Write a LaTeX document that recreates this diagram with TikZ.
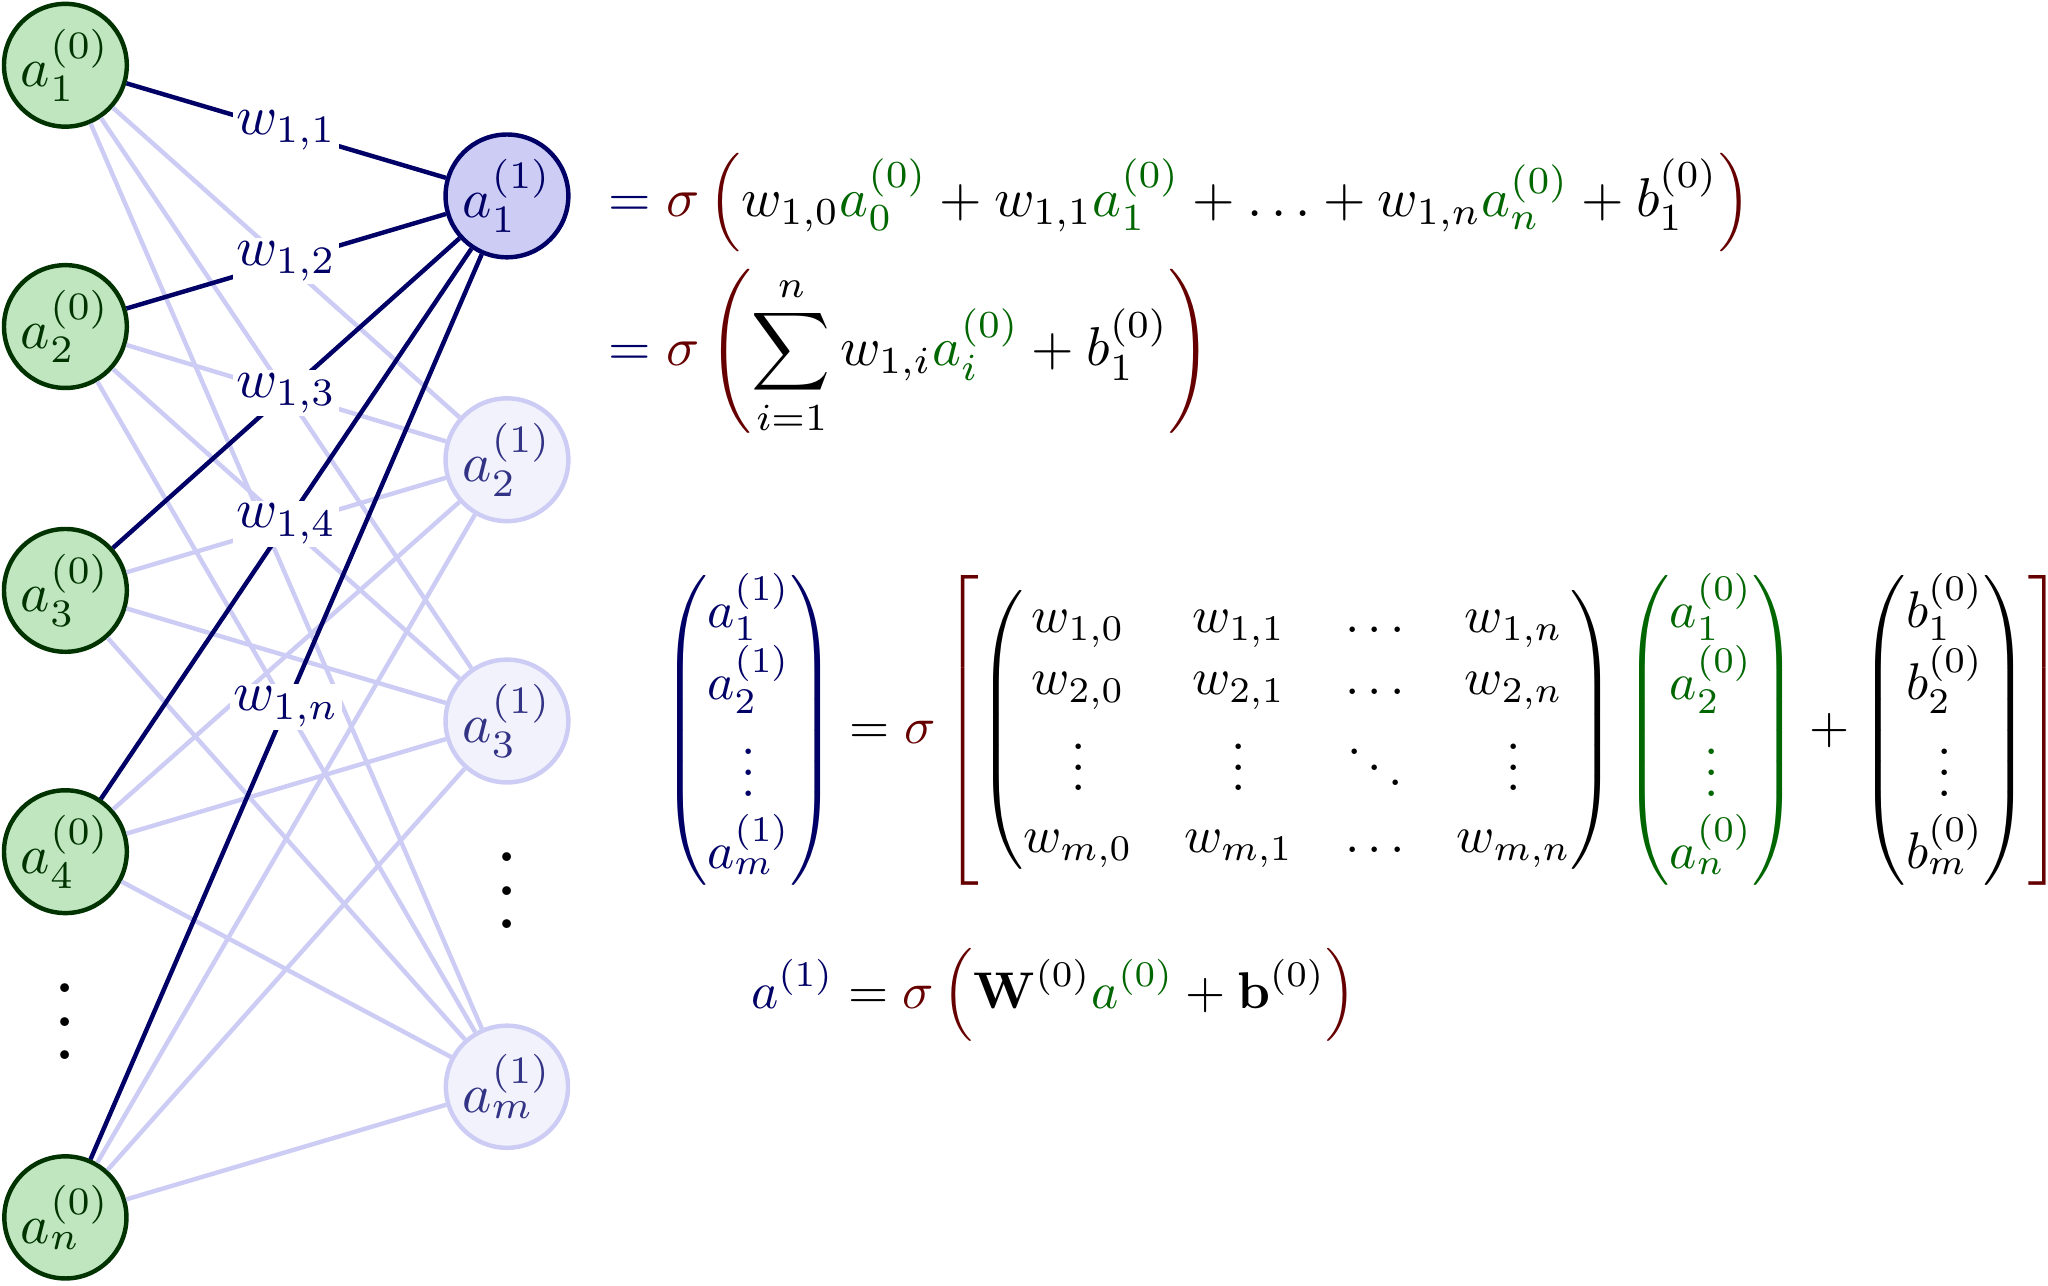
\documentclass[tikz,border=0pt]{standalone}
\usepackage{amsmath}
\usetikzlibrary{positioning}

\colorlet{myblue}{blue!80!black}
\colorlet{mydarkblue}{blue!40!black}
\colorlet{mygreen}{green!60!black}
\colorlet{mydarkgreen}{green!20!black}
\colorlet{mytextgreen}{green!40!black}
\colorlet{myred}{red!40!black}

\newcommand{\cgr}[1]{{\color{mytextgreen}#1}}
\newcommand{\cbl}[1]{{\color{mydarkblue}#1}}

\tikzset{
	neuron in/.style = {circle, thick, draw = mydarkgreen, fill = mygreen!25, text = mydarkgreen,
		minimum size = 22pt, inner sep = 0.5pt},
	neuron hid/.style = {circle, thick, draw = mydarkblue, fill = myblue!20, text = mydarkblue,
		minimum size = 22pt, inner sep = 0.5pt},
	neuron off/.style = {circle, thick, draw = myblue!20, fill = myblue!5, text = mydarkblue!80,
		minimum size = 22pt, inner sep = 0.5pt},
	link/.style = {thick, myblue!20},
	link on/.style = {thick, mydarkblue},
	weight/.style = {fill = white, inner sep = 0.6pt, text = mydarkblue},
	layer dots/.style = {scale = 1.5, inner sep = 0pt},
	formula/.style = {anchor = west, scale = 0.93}
}

\begin{document}
\begin{tikzpicture}[y = -1cm]

	\useasboundingbox (0, 0) rectangle (12.964, 8.136);

	% Input layer

	\foreach \name/\lab/\y in {in1/1/0.413, in2/2/2.067, in3/3/3.737, in4/4/5.391, inn/n/7.706}
		\node [neuron in] (\name) at (0.414, \y) {$a_{\lab}^{(0)}$};
	\node [layer dots] (indots) at (0.414, 6.31) {$\vdots$};

	% Hidden layer

	\node [neuron hid] (hid1) at (3.209, 1.240) {$a_1^{(1)}$};
	\foreach \name/\lab/\y in {hid2/2/2.910, hid3/3/4.564, hidm/m/6.879}
		\node [neuron off] (\name) at (3.209, \y) {$a_{\lab}^{(1)}$};
	\node [layer dots] (hiddots) at (3.209, 5.48) {$\vdots$};

	% Connections

	\foreach \i in {in1, in2, in3, in4, inn}
		\foreach \j in {hid2, hid3, hidm}
			\draw [link] (\i) -- (\j);
	\foreach \i/\lab in {in1/1, in2/2, in3/3, in4/4, inn/n}
		\draw [link on] (\i) -- node [weight] {$w_{1,\lab}$} (hid1);

	% Equations

	\node [anchor = west, scale = 0.985] (eqfull) at (3.73, 1.282)
		{$\displaystyle \color{mydarkblue}=\color{myred}\sigma\left(\color{black} w_{1,0}\cgr{a_0^{(0)}} + w_{1,1}\cgr{a_1^{(0)}} + \ldots + w_{1,n}\cgr{a_n^{(0)}} + b_1^{(0)}\color{myred}\right)$};
	\node [anchor = west, scale = 0.985] (eqsum) at (3.73, 2.232)
		{$\displaystyle \color{mydarkblue}=\color{myred}\sigma\left(\color{black} \sum_{i=1}^{n} w_{1,i}\cgr{a_i^{(0)}} + b_1^{(0)}\color{myred}\right)$};

	\node [formula] (eqmat) at (4.076, 4.622)
		{$\displaystyle
		{\color{mydarkblue}\begin{pmatrix} a_1^{(1)} \\ a_2^{(1)} \\ \vdots \\ a_m^{(1)} \end{pmatrix}}
		= \color{myred}\sigma\left[\color{black}
		\begin{pmatrix}
			w_{1,0} & w_{1,1} & \ldots & w_{1,n} \\
			w_{2,0} & w_{2,1} & \ldots & w_{2,n} \\
			\vdots & \vdots & \ddots & \vdots \\
			w_{m,0} & w_{m,1} & \ldots & w_{m,n}
		\end{pmatrix}
		{\color{mytextgreen}\begin{pmatrix} a_1^{(0)} \\ a_2^{(0)} \\ \vdots \\ a_n^{(0)} \end{pmatrix}}
		+
		\begin{pmatrix} b_1^{(0)} \\ b_2^{(0)} \\ \vdots \\ b_m^{(0)} \end{pmatrix}
		\color{myred}\right]$};

	\node [formula] (eqvec) at (4.64, 6.30)
		{$\displaystyle \cbl{a^{(1)}} = \color{myred}\sigma\left(\color{black} \mathbf{W}^{(0)}\cgr{a^{(0)}} + \mathbf{b}^{(0)}\color{myred}\right)$};

\end{tikzpicture}
\end{document}
